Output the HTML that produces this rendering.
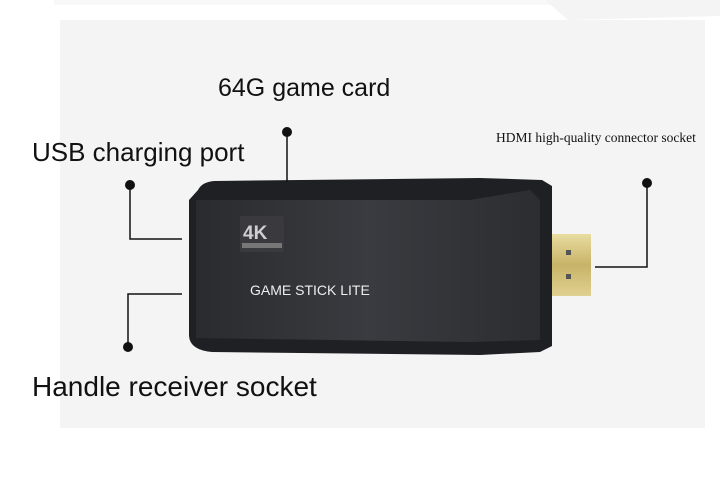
<!DOCTYPE html>
<html><head><style>
html,body{margin:0;padding:0;background:#fff;}
body{width:720px;height:484px;position:relative;overflow:hidden;font-family:"Liberation Sans",sans-serif;}
.t{position:absolute;color:#111;white-space:nowrap;}
</style></head><body>
<svg width="720" height="484" style="position:absolute;left:0;top:0">
<defs>
<linearGradient id="bd" x1="0" y1="0" x2="1" y2="0">
<stop offset="0" stop-color="#2a2b2f"/><stop offset="0.5" stop-color="#3a3b40"/><stop offset="1" stop-color="#2c2d31"/>
</linearGradient>
<linearGradient id="gd" x1="0" y1="0" x2="0" y2="1">
<stop offset="0" stop-color="#e8dca0"/><stop offset="0.5" stop-color="#c8b468"/><stop offset="1" stop-color="#e0d090"/>
</linearGradient>
</defs>
<rect x="60" y="20" width="645" height="408" fill="#f4f4f4"/>
<rect x="54" y="0" width="500" height="5" fill="#f8f8f8"/>
<path d="M545 0 L720 0 L720 16 L568 20 Z" fill="#f4f4f4"/>
<rect x="551" y="234" width="40" height="62" fill="url(#gd)"/>
<rect x="566" y="250" width="5" height="5" fill="#555"/>
<rect x="566" y="274" width="5" height="5" fill="#555"/>
<path d="M198 190 Q202 182 214 181 L480 178 L542 180 L552 186 L552 346 L540 352 L480 355 L212 352 Q190 350 189 336 L189 200 Z" fill="#1f2023"/>
<path d="M196 200 L470 200 L530 190 L540 200 L540 340 L470 342 L196 338 Z" fill="url(#bd)"/>
<rect x="240" y="216" width="44" height="36" rx="2" fill="#3a3a3e"/>
<text x="243" y="239" font-family="Liberation Sans" font-weight="bold" font-size="19" fill="#cfcfcf">4K</text>
<rect x="242" y="243" width="40" height="5" fill="#777"/>
<g stroke="#111" stroke-width="1.5" fill="none">
<path d="M287 133 L287 182"/>
<path d="M130 186 L130 239 L182 239"/>
<path d="M128 347 L128 294 L182 294"/>
<path d="M647 183 L647 267 L595 267"/>
</g>
<g fill="#111">
<circle cx="287" cy="132" r="5"/>
<circle cx="130" cy="185" r="5"/>
<circle cx="128" cy="347" r="5"/>
<circle cx="647" cy="183" r="5"/>
</g>
</svg>
<div class="t" style="left:218px;top:74px;font-size:25px;">64G game card</div>
<div class="t" style="left:32px;top:137px;font-size:26px;">USB charging port</div>
<div class="t" style="left:496px;top:130px;font-size:13.5px;font-family:'Liberation Serif',serif;">HDMI high-quality connector socket</div>
<div class="t" style="left:250px;top:282px;font-size:14px;color:#eee;">GAME STICK LITE</div>
<div class="t" style="left:32px;top:371px;font-size:28px;">Handle receiver socket</div>
</body></html>
